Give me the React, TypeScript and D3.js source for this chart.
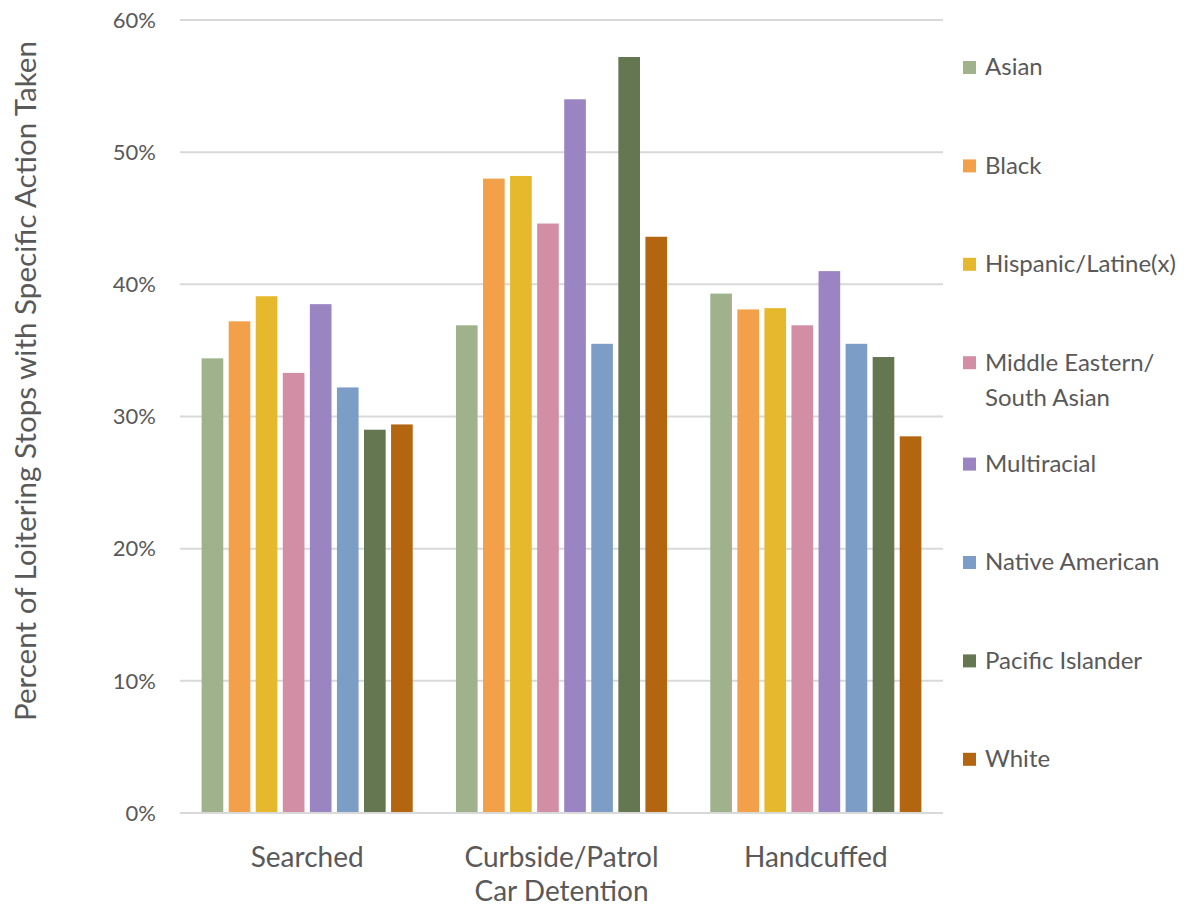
import React from "react";
import * as d3 from "d3";

const categories = ["Searched", "Curbside/Patrol Car Detention", "Handcuffed"];
const categoryLines = [["Searched"], ["Curbside/Patrol", "Car Detention"], ["Handcuffed"]];
const groups = ["Asian", "Black", "Hispanic/Latine(x)", "Middle Eastern/South Asian", "Multiracial", "Native American", "Pacific Islander", "White"];
const legendLines = [["Asian"], ["Black"], ["Hispanic/Latine(x)"], ["Middle Eastern/", "South Asian"], ["Multiracial"], ["Native American"], ["Pacific Islander"], ["White"]];
const colors = ["#a0b28c", "#f2a14a", "#e5b92b", "#d28ea5", "#9a85c2", "#7c9ec6", "#647751", "#b4650f"];
const searched = [0.344, 0.372, 0.391, 0.333, 0.385, 0.322, 0.290, 0.294];
const curbside = [0.369, 0.480, 0.482, 0.446, 0.540, 0.355, 0.572, 0.436];
const handcuffed = [0.393, 0.381, 0.382, 0.369, 0.410, 0.355, 0.345, 0.285];
const values = [searched, curbside, handcuffed];
const yTicks = [0, 0.1, 0.2, 0.3, 0.4, 0.5, 0.6];
const yTitle = "Percent of Loitering Stops with Specific Action Taken";

export default function App() {
  const W = 1191, H = 908;
  const left = 180, right = 943, top = 20, bottom = 813;
  const x0 = d3.scaleBand().domain(categories).range([left, right]).paddingInner(0.17).paddingOuter(0.085);
  const x1 = d3.scaleBand().domain(groups).range([0, x0.bandwidth()]).paddingInner(0.2);
  const y = d3.scaleLinear().domain([0, 0.6]).range([bottom, top]);
  const fmt = d3.format(".0%");
  const font = "Lato, 'Open Sans', sans-serif";
  const textColor = "#595959";
  return (
    <svg width={W} height={H} style={{ position: "absolute", left: 0, top: 0, background: "#fff" }}>
      <g>
        {yTicks.map((t) => (
          <line key={t} x1={left} x2={right} y1={y(t)} y2={y(t)} stroke="#d9d9d9" strokeWidth={2} />
        ))}
        {yTicks.map((t) => (
          <text key={"l" + t} x={156} y={y(t)} dy="0.35em" textAnchor="end" fontFamily={font} fontSize={22} fill={textColor}>
            {fmt(t)}
          </text>
        ))}
      </g>
      <g>
        {categories.map((c, ci) => (
          <g key={c} transform={`translate(${x0(c)},0)`}>
            {groups.map((g, gi) => (
              <rect key={g} x={x1(g)} y={y(values[ci][gi])} width={x1.bandwidth()} height={bottom - y(values[ci][gi])} fill={colors[gi]} />
            ))}
          </g>
        ))}
      </g>
      <line x1={left} x2={right} y1={bottom} y2={bottom} stroke="#d9d9d9" strokeWidth={2} />
      {categories.map((c, ci) => (
        <text key={c} x={(x0(c) as number) + x0.bandwidth() / 2} y={857} textAnchor="middle" fontFamily={font} fontSize={28} fill={textColor}>
          {categoryLines[ci].map((l, li) => (
            <tspan key={li} x={(x0(c) as number) + x0.bandwidth() / 2} dy={li === 0 ? "0.35em" : 34}>{l}</tspan>
          ))}
        </text>
      ))}
      <text transform={`translate(26,381) rotate(-90)`} textAnchor="middle" dy="0.35em" fontFamily={font} fontSize={28} fill={textColor} textLength={680} lengthAdjust="spacingAndGlyphs">
        {yTitle}
      </text>
      <g>
        {groups.map((g, gi) => {
          const cy = 67 + gi * 98.4 + (gi >= 4 ? 3 : 0);
          return (
            <g key={g}>
              <rect x={963} y={cy - 6} width={13} height={13} fill={colors[gi]} />
              <text x={985} y={cy} fontFamily={font} fontSize={24} fill={textColor}>
                {legendLines[gi].map((l, li) => (
                  <tspan key={li} x={985} dy={li === 0 ? "0.35em" : 35}>{l}</tspan>
                ))}
              </text>
            </g>
          );
        })}
      </g>
    </svg>
  );
}
